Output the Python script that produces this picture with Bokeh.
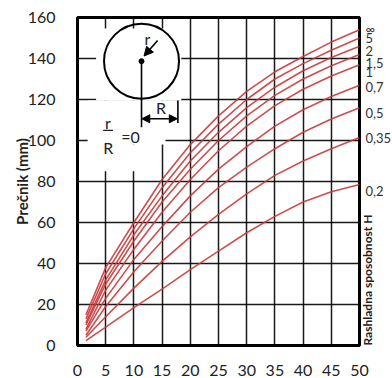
import math
from bokeh.plotting import figure
from bokeh.models import Range1d, Arrow, NormalHead, LinearAxis, FixedTicker, AllLabels
from bokeh.core.properties import value
from bokeh.embed import file_html
from bokeh.resources import INLINE

# ---- data ----
x_pts = [1.5, 5, 10, 15, 20, 25, 30, 35, 40, 45, 50]
h_labels = ["∞", "5", "2", "1,5", "1", "0,7", "0,5", "0,35", "0,2"]
curve_inf = [15, 38, 60, 81, 98, 112, 124, 133.5, 141, 148, 154]
curve_5 = [13, 35, 57, 77, 94, 108, 120, 130, 137.5, 144, 150]
curve_2 = [11, 32, 54, 73, 90, 104, 116, 126, 134, 140.5, 146]
curve_1_5 = [10, 30, 51, 70, 86, 100, 112, 122, 130, 136.5, 142]
curve_1 = [8, 27, 47, 65, 81, 95, 107, 117, 125, 131.5, 137]
curve_0_7 = [7, 23, 42, 58, 73, 86, 97, 107, 115, 121.5, 127]
curve_0_5 = [5, 19, 36, 51, 65, 77, 87, 96, 104, 110.5, 116]
curve_0_35 = [4, 14, 28, 41, 53, 64, 74, 83, 90, 96, 101.5]
curve_0_2 = [2.4, 9, 18.5, 27.5, 37, 46, 55, 63, 70, 75, 78.5]
curves = [curve_inf, curve_5, curve_2, curve_1_5, curve_1,
          curve_0_7, curve_0_5, curve_0_35, curve_0_2]
label_y = [154.6, 150.2, 143.9, 137.6, 133.2, 125.9, 113.2, 101.0, 75.6]
x_ticks = list(range(0, 51, 5))
y_ticks = list(range(0, 161, 20))

# inset (white background areas covering grid)
mask_left = [3.3, 1.8, 1.8]
mask_right = [18.4, 15.6, 13.0]
mask_bottom = [119.5, 98.0, 85.0]
mask_top = [154.6, 119.5, 98.0]

FONT = "Lato"
RED = "#c8383a"
TXT = "#222222"

p = figure(width=392, height=378, x_range=Range1d(0, 50), y_range=Range1d(0, 160),
           output_backend="svg", toolbar_location=None,
           min_border_left=77, min_border_right=33, min_border_top=17, min_border_bottom=33)
p.background_fill_color = "white"
p.border_fill_color = "white"
p.outline_line_color = "black"
p.outline_line_width = 3

# right axis carrying the H labels and the title
raxis = LinearAxis(ticker=FixedTicker(ticks=label_y),
                   major_label_overrides={v: t for v, t in zip(label_y, h_labels)},
                   major_label_policy=AllLabels(),
                   axis_label="Rashladna sposobnost H")
p.add_layout(raxis, "right")

for ax in (p.xaxis[0], p.yaxis[0], raxis):
    ax.axis_line_color = None
    ax.major_tick_line_color = None
    ax.minor_tick_line_color = None
    ax.major_label_text_font = FONT
    ax.major_label_text_color = TXT
    ax.axis_label_text_font = FONT
    ax.axis_label_text_font_style = "bold"
    ax.axis_label_text_color = TXT

p.xaxis[0].ticker = x_ticks
p.yaxis[0].ticker = y_ticks
p.xaxis[0].major_label_text_font_size = "16px"
p.yaxis[0].major_label_text_font_size = "16px"
p.xaxis[0].major_label_standoff = 13
p.yaxis[0].major_label_standoff = 16
p.yaxis[0].axis_label = "Prečnik (mm)"
p.yaxis[0].axis_label_text_font_size = "15px"
p.yaxis[0].axis_label_standoff = -6

raxis.major_label_text_font_size = "13px"
raxis.major_label_text_color = "#333333"
raxis.major_label_standoff = 0
raxis.axis_label_text_font_size = "12px"
raxis.axis_label_standoff = -27
props = raxis.properties()
if "axis_label_orientation" in props:
    raxis.axis_label_orientation = math.pi / 2
if "axis_label_align" in props:
    raxis.axis_label_align = "start"

p.xgrid.grid_line_color = "black"
p.ygrid.grid_line_color = "black"
p.xgrid.grid_line_width = 1.5
p.ygrid.grid_line_width = 1.5
p.xgrid.grid_line_alpha = 0.9
p.ygrid.grid_line_alpha = 0.9

# white inset area
p.quad(left=mask_left, right=mask_right, bottom=mask_bottom, top=mask_top,
       fill_color="white", line_color=None)

# curves
for ys in curves:
    p.line(x_pts, ys, line_color=RED, line_width=1.6, line_alpha=0.9)

# inset drawing: circle with r and R
cx, cy = [11.35], [138.7]
p.scatter(cx, cy, marker="circle", size=75, fill_color=None, line_color="black", line_width=2)
p.scatter(cx, cy, marker="circle", size=5, fill_color="black", line_color="black")
p.segment(x0=[11.35, 17.8], y0=[138.7, 119.5], x1=[11.35, 17.8], y1=[106.5, 108.5],
          line_color="black", line_width=1.6)
p.add_layout(Arrow(end=NormalHead(size=9, fill_color="black", line_color="black"),
                   x_start=14.2, y_start=148.8, x_end=11.8, y_end=141.2,
                   line_color="black", line_width=1.6))
p.add_layout(Arrow(start=NormalHead(size=8, fill_color="black", line_color="black"),
                   end=NormalHead(size=8, fill_color="black", line_color="black"),
                   x_start=11.4, y_start=110.6, x_end=17.7, y_end=110.6,
                   line_color="black", line_width=1.6))
p.text(x=[12.4, 14.8, 5.4, 5.45, 9.4], y=[149.8, 116.2, 109, 96.7, 102],
       text=["r", "R", "r", "R", "=0"], text_font=value(FONT), text_font_size="16px",
       text_align="center", text_baseline="middle", text_color=TXT)
p.segment(x0=[4.55], y0=[104.9], x1=[6.3], y1=[104.9], line_color=TXT, line_width=1.3)

open("out.html", "w").write(file_html(p, INLINE))
